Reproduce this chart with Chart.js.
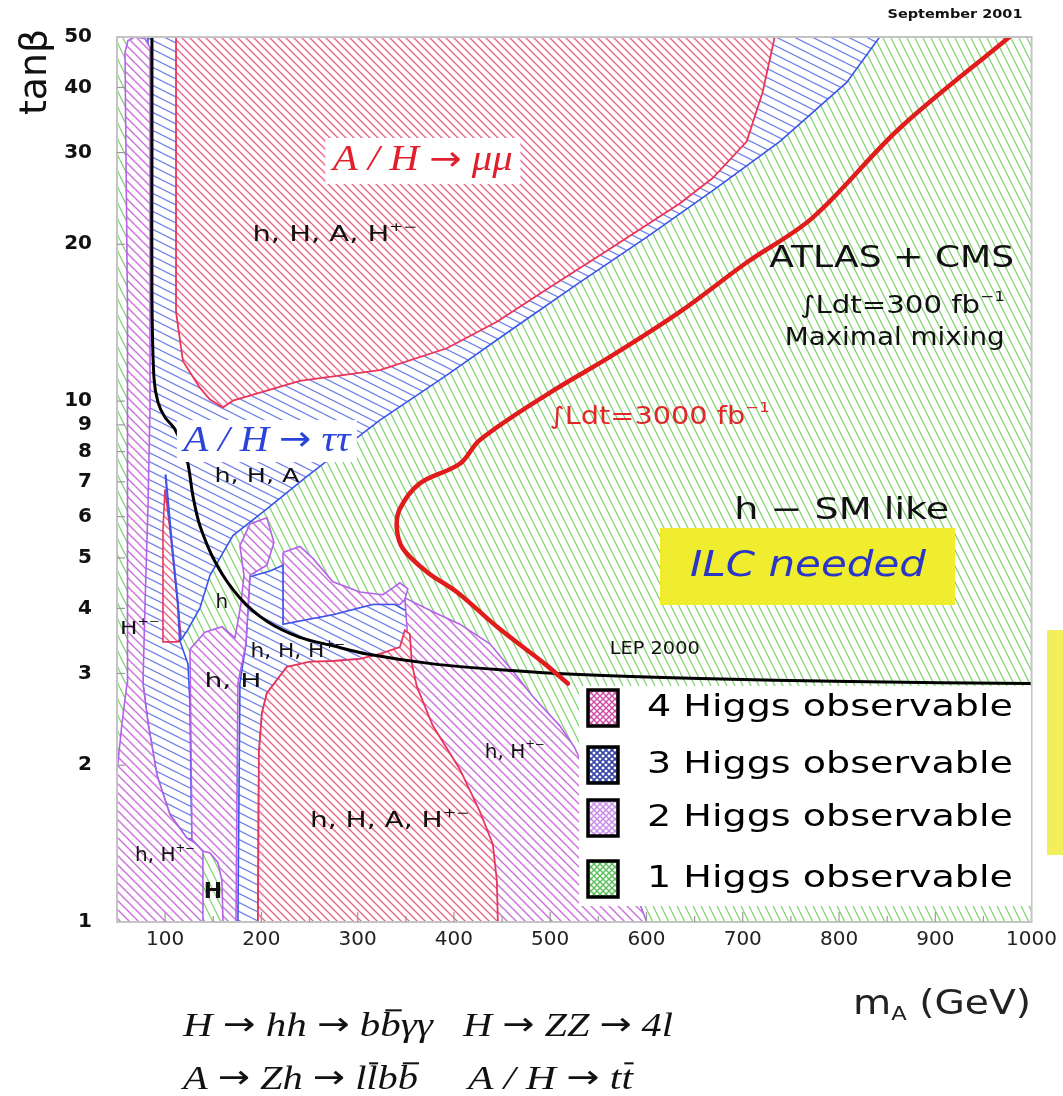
<!DOCTYPE html>
<html>
<head>
<meta charset="utf-8">
<script src="https://cdn.jsdelivr.net/npm/chart.js@4.4.1/dist/chart.umd.min.js"></script>
<style>
html,body{margin:0;padding:0;background:#ffffff;}
#c{display:block;}
</style>
</head>
<body>
<canvas id="c" width="1063" height="1096"></canvas>
<script>
// ---------------- data: [mA (GeV), tanβ] ----------------
const xTicks = [100,200,300,400,500,600,700,800,900,1000];
const yTicks = [1,2,3,4,5,6,7,8,9,10,20,30,40,50];
const legendLabels = ['4 Higgs observable','3 Higgs observable','2 Higgs observable','1 Higgs observable'];

const oneHiggsAll = [[50,1],[1000,1],[1000,50],[50,50]];
const threeHiggsUpper = [[82.2,50],[842.2,50],[808,40.9],[738.4,31.5],[668.8,25.35],[600.3,20.65],[530.7,16.9],[461.2,13.77],[392.6,11.22],[323.1,9.19],[247.3,7.17],[205.7,6.21],[170.4,5.52],[146.6,4.63],[136.2,4.01],[122.7,3.62],[115.4,3.46],[123.7,3.13],[125.8,2.63],[126.8,1.857],[127.9,1.442],[122.7,1.448],[105,1.608],[91.5,1.914],[82.2,2.41],[77,2.87],[77,4.07],[80.1,9.72]];
const fourHiggsMuMu = [[111.3,50],[733.2,50],[720.7,39.2],[704.1,31.5],[668.8,26.8],[634.6,23.96],[565,19.77],[496.5,16.4],[444.6,14.2],[392.6,12.63],[323.1,11.47],[240,10.93],[170.4,10.02],[160,9.72],[146.6,10.07],[136.2,10.6],[118.5,11.93],[111.3,14.83]];
const twoHiggsLeft = [[58.3,46.7],[61.4,49.2],[68.7,50],[79.1,49.6],[84.3,47.7],[84.3,9.72],[82.2,6.29],[79.1,4.07],[77,2.87],[82.2,2.41],[91.5,1.914],[105,1.608],[122.7,1.448],[133.1,1.411],[139.3,1.369],[139.3,1],[50,1],[50,1.94],[55.2,2.41],[60.4,2.87],[61.4,4.07],[60.4,15.03]];
const fourHiggsSliver = [[99.8,6.77],[107.1,5.28],[113.3,4.07],[116.5,3.52],[113.3,3.45],[97.8,3.45],[97.8,5.69]];
const tauTauEdge = [[100.5,7.2],[107.1,5.28],[113.3,4.07],[115.4,3.46]];
const twoHiggsMid = [[222.4,5.12],[240,5.26],[253.5,4.99],[274.3,4.50],[302.3,4.30],[326.2,4.25],[336.6,4.38],[343.8,4.48],[352.1,4.36],[349,4.16],[343.8,4.07],[315.8,4.07],[274.3,3.89],[222.4,3.73]];
const threeHiggsLower = [[175.6,1],[196.4,1],[197.4,2.115],[200.6,2.52],[205.7,2.75],[226.5,3.09],[274.3,3.17],[302.3,3.20],[351.1,3.09],[356.3,3.42],[352.1,3.94],[338.6,4.07],[315.8,4.07],[274.3,3.89],[222.4,3.73],[222.4,4.84],[208.9,4.72],[188.1,4.60],[183.9,3.42],[177.7,2.87]];
const twoHiggsColumn = [[125.8,3.34],[141.4,3.60],[159,3.69],[172.5,3.51],[178.7,4.07],[181.9,4.63],[177.7,5.28],[188.1,5.81],[205.7,5.97],[213,5.35],[205.7,4.84],[188.1,4.63],[183.9,3.42],[175.6,2.87],[173.6,1],[160.1,1],[159,1.20],[154.9,1.30],[146.6,1.357],[139.3,1.369],[127.9,1.442]];
const twoHiggsRight = [[349,4.19],[378.1,3.94],[406.1,3.73],[437.3,3.42],[463.2,3.0],[481.9,2.71],[510,2.38],[525.5,2.16],[541.1,1.857],[567.1,1.43],[587.8,1.15],[600.3,1],[400,1],[352,3.5]];
const fourHiggsLower = [[196.4,1],[197.4,2.115],[200.6,2.52],[205.7,2.75],[226.5,3.09],[250.4,3.16],[274.3,3.17],[302.3,3.20],[323.1,3.27],[343.8,3.37],[349,3.63],[354.2,3.57],[356.3,3.13],[361.5,2.83],[378.1,2.38],[406.1,1.965],[426.9,1.63],[440.4,1.411],[444.6,1.20],[445.6,1]];
const lepLimit = [[86.3,50],[86.3,28.9],[86.3,15.7],[88.4,11.08],[92.6,9.94],[99.8,9.31],[110.2,8.83],[122.7,7.72],[128.9,6.57],[136.2,5.76],[153.8,4.84],[177.7,4.19],[205.7,3.78],[240,3.52],[274.3,3.39],[309.6,3.27],[378.1,3.13],[447.7,3.05],[530.7,2.985],[655.3,2.934],[811.1,2.894],[1000,2.87]];
const ldt3000 = [[977,50],[863,33.4],[772.7,22.5],[704.1,18.45],[634.6,14.83],[565,12.25],[496.5,10.29],[426.9,8.42],[406.1,7.58],[364.6,6.95],[343.8,6.21],[340.7,5.69],[347,5.21],[371.9,4.70],[403,4.30],[447.7,3.65],[494.4,3.13],[518.3,2.87]];

// labels inside the plot, anchored at [mA, tanβ]
const plotLabels = [
 {runs:[{t:'h, H, A, H'},{t:'+−',sup:1}], x:276.4, y:20.8, size:22, width:165},
 {runs:[{t:'ATLAS + CMS'}], x:854.7, y:18.7, size:30, width:245},
 {runs:[{t:'∫Ldt=300 fb'},{t:'−1',sup:1}], x:866.1, y:15.2, size:24, width:205},
 {runs:[{t:'Maximal mixing'}], x:857.8, y:13.2, size:24, width:220},
 {runs:[{t:'∫Ldt=3000 fb'},{t:'−1',sup:1}], x:613.8, y:9.30, size:24, width:220, color:'#e0282a'},
 {runs:[{t:'h, H, A'}], x:195.4, y:7.17, size:20, width:85},
 {runs:[{t:'h − SM like'}], x:802.8, y:6.15, size:30, width:215},
 {runs:[{t:'LEP 2000'}], x:608.6, y:3.34, size:17, width:90},
 {runs:[{t:'H'},{t:'+−',sup:1}], x:73.9, y:3.65, size:18, width:40},
 {runs:[{t:'h'}], x:159, y:4.10, size:20},
 {runs:[{t:'h, H, H'},{t:'+−',sup:1}], x:237.9, y:3.30, size:20, width:95},
 {runs:[{t:'h, H'}], x:170.4, y:2.89, size:20, width:57},
 {runs:[{t:'h, H'},{t:'+−',sup:1}], x:463.2, y:2.115, size:20, width:60},
 {runs:[{t:'h, H, A, H'},{t:'+−',sup:1}], x:333.5, y:1.56, size:22, width:160},
 {runs:[{t:'h, H'},{t:'+−',sup:1}], x:99.8, y:1.34, size:20, width:60},
 {runs:[{t:'H'}], x:149.7, y:1.14, size:22, weight:'bold'}
];
const decayLabels = [
 {text:'A / H → μμ', x:367.7, y:28.9, color:'#e0202c', boxW:195, boxH:46, width:180},
 {text:'A / H → ττ', x:205.7, y:8.38, color:'#2a44d8', boxW:180, boxH:42, width:167}
];

// ---------------- drawing ----------------
const canvas = document.getElementById('c');
const ctx0 = canvas.getContext('2d');

function hatch(color, w, h, lw, dir){
  const c = document.createElement('canvas'); c.width = w; c.height = h;
  const g = c.getContext('2d');
  g.fillStyle = '#ffffff'; g.fillRect(0,0,w,h);
  g.strokeStyle = color; g.lineWidth = lw;
  for (const [dx,dy] of [[0,0],[-w,0],[w,0],[0,-h],[0,h]]){
    g.beginPath();
    if (dir > 0){ g.moveTo(dx,dy); g.lineTo(dx+w,dy+h); }
    else { g.moveTo(dx,dy+h); g.lineTo(dx+w,dy); }
    g.stroke();
  }
  return ctx0.createPattern(c,'repeat');
}
function cross(color, s, lw){
  const c = document.createElement('canvas'); c.width = s; c.height = s;
  const g = c.getContext('2d');
  g.fillStyle = '#ffffff'; g.fillRect(0,0,s,s);
  g.strokeStyle = color; g.lineWidth = lw;
  for (const [dx,dy] of [[0,0],[-s,0],[s,0],[0,-s],[0,s]]){
    g.beginPath(); g.moveTo(dx,dy); g.lineTo(dx+s,dy+s); g.stroke();
    g.beginPath(); g.moveTo(dx,dy+s); g.lineTo(dx+s,dy); g.stroke();
  }
  return ctx0.createPattern(c,'repeat');
}

const patGreen  = hatch('#86d676', 8, 16, 1.3, 1);
const patPink   = hatch('#ee6a8c', 8, 8, 1.5, 1);
const patBlue   = hatch('#7585ea', 18, 9, 1.3, 1);
const patPurple = hatch('#cb74da', 9, 9, 1.5, 1);
const legendPats = [cross('#d24aa8',6,1.4), cross('#3646a8',6,1.6), cross('#c98ae8',6,1.4), cross('#5cc05c',6,1.4)];

const RED='#e8365a', BLUE='#3a55e8', PURPLE='#b262e6';

const toXY = a => a.map(([x,y]) => ({x,y}));
const closed = a => a.concat([a[0]]);

function region(arr, pat, border, bw){
  return {data: toXY(closed(arr)), fill:'shape', backgroundColor: pat, borderColor: border,
          borderWidth: bw, pointRadius:0, pointHoverRadius:0, tension:0, clip:0};
}
function curve(arr, color, bw, tension){
  return {data: toXY(arr), fill:false, borderColor: color, borderWidth: bw,
          pointRadius:0, pointHoverRadius:0, tension: tension, clip:0, borderCapStyle:'round', borderJoinStyle:'round'};
}

// bottom -> top
const layers = [
  region(oneHiggsAll, patGreen, 'rgba(0,0,0,0)', 0),
  region(threeHiggsUpper, patBlue, BLUE, 1.6),
  region(fourHiggsMuMu, patPink, RED, 1.8),
  region(twoHiggsLeft, patPurple, PURPLE, 1.6),
  region(fourHiggsSliver, patPink, RED, 1.6),
  curve(tauTauEdge, BLUE, 2.2, 0),
  region(twoHiggsMid, patPurple, PURPLE, 1.6),
  region(threeHiggsLower, patBlue, BLUE, 1.6),
  region(twoHiggsColumn, patPurple, PURPLE, 1.6),
  region(twoHiggsRight, patPurple, PURPLE, 1.6),
  region(fourHiggsLower, patPink, RED, 1.8),
  curve(lepLimit, '#000000', 3, 0.3),
  curve(ldt3000, '#e01c1c', 4.5, 0.35)
];
layers.forEach((d,i) => { d.order = layers.length - i; });

// split '→' into separate runs drawn with a sans font so the arrows keep full size
function withArrows(runs){
  const out = [];
  for (const r of runs){
    const parts = r.t.split('→');
    parts.forEach((p,i) => {
      if (i > 0) out.push({t:'→', arrow:1});
      if (p) out.push(Object.assign({}, r, {t:p}));
    });
  }
  return out;
}

function rich(ctx, runs, x, y, o){
  const fnt = (s, r) => r && r.arrow ? `normal normal ${s*0.95}px "DejaVu Sans"`
                                     : `${o.style||'normal'} ${o.weight||'normal'} ${s}px ${o.family||'"DejaVu Sans"'}`;
  const sizeOf = r => (r.sup||r.sub) ? o.size*0.58 : o.size;
  if (o.arrows) runs = withArrows(runs);
  let total = 0; const ws = [];
  for (const r of runs){ ctx.font = fnt(sizeOf(r), r); const w = ctx.measureText(r.t).width; ws.push(w); total += w; }
  const sx = o.width ? o.width/total : 1;
  ctx.save();
  ctx.translate(x, y);
  if (o.rotate) ctx.rotate(o.rotate);
  ctx.scale(sx, 1);
  let cx = o.align === 'left' ? 0 : -total/2;
  ctx.fillStyle = o.color || '#111';
  ctx.textBaseline = 'middle'; ctx.textAlign = 'left';
  runs.forEach((r,i) => {
    ctx.font = fnt(sizeOf(r), r);
    const dy = r.sup ? -o.size*0.36 : (r.sub ? o.size*0.28 : 0);
    ctx.fillText(r.t, cx, dy);
    if (r.over) ctx.fillRect(cx + ws[i]*0.25, -o.size*0.52, ws[i]*0.8, Math.max(1.6, o.size*0.06));
    cx += ws[i];
  });
  ctx.restore();
}

const decor = {
  id: 'decor',
  afterDatasetsDraw(chart){
    const {ctx, chartArea:a, scales:{x, y}} = chart;
    ctx.save();
    ctx.strokeStyle = '#c4c4c4'; ctx.lineWidth = 2;
    ctx.strokeRect(a.left, a.top, a.right-a.left, a.bottom-a.top);
    ctx.strokeStyle = '#999999'; ctx.lineWidth = 1.2;
    for (let v = 100; v < 1000; v += 50){
      const px = x.getPixelForValue(v), L = v % 100 === 0 ? 10 : 6;
      ctx.beginPath(); ctx.moveTo(px, a.bottom); ctx.lineTo(px, a.bottom - L); ctx.stroke();
    }
    for (const v of yTicks){
      if (v === 1 || v === 50) continue;
      const py = y.getPixelForValue(v);
      ctx.beginPath(); ctx.moveTo(a.left, py); ctx.lineTo(a.left + 8, py); ctx.stroke();
    }
    ctx.restore();
  },
  afterDraw(chart){
    const {ctx, scales:{x, y}} = chart;
    ctx.save();
    // decay-channel labels on white boxes
    for (const d of decayLabels){
      const px = x.getPixelForValue(d.x), py = y.getPixelForValue(d.y);
      ctx.fillStyle = '#ffffff';
      ctx.fillRect(px - d.boxW/2, py - d.boxH/2, d.boxW, d.boxH);
      rich(ctx, [{t:d.text}], px, py, {size:36, family:'"Liberation Serif"', style:'italic', color:d.color, width:d.width, arrows:1});
    }
    // region labels
    for (const l of plotLabels){
      rich(ctx, l.runs, x.getPixelForValue(l.x), y.getPixelForValue(l.y),
           {size:l.size, width:l.width, color:l.color||'#111111', weight:l.weight||'normal'});
    }
    // ILC box
    ctx.fillStyle = '#f0ec2e';
    ctx.fillRect(660, 528, 295, 77);
    rich(ctx, [{t:'ILC needed'}], 808, 567, {size:36, style:'italic', color:'#2a36c8', width:236});
    ctx.fillStyle = '#f3ef5c';
    ctx.fillRect(1047, 630, 16, 225);
    // legend
    ctx.fillStyle = '#ffffff';
    ctx.fillRect(579, 686, 452, 220);
    const rowsY = [708, 765, 818, 879];
    legendLabels.forEach((t,i) => {
      const top = rowsY[i] - 18;
      ctx.fillStyle = legendPats[i];
      ctx.fillRect(588, top, 30, 36);
      ctx.strokeStyle = '#000000'; ctx.lineWidth = 3.5;
      ctx.strokeRect(588, top, 30, 36);
      rich(ctx, [{t:t}], 647, rowsY[i], {size:30, align:'left', width:366, color:'#000000'});
    });
    // axis titles
    rich(ctx, [{t:'tanβ'}], 36, 72, {size:38, rotate:-Math.PI/2, width:86, color:'#111111'});
    rich(ctx, [{t:'m'},{t:'A',sub:1},{t:' (GeV)'}], 853, 1005, {size:34, align:'left', width:178, color:'#222222'});
    rich(ctx, [{t:'September 2001'}], 955, 15, {size:13, weight:'bold', width:135, color:'#111111'});
    // production / decay formulas
    const f = {size:34, family:'"Liberation Serif"', style:'italic', align:'left', color:'#111111', arrows:1};
    rich(ctx, [{t:'H → hh → b'},{t:'b',over:1},{t:'γγ'}], 183, 1027, Object.assign({width:250}, f));
    rich(ctx, [{t:'H → ZZ → 4l'}], 463, 1027, Object.assign({width:210}, f));
    rich(ctx, [{t:'A → Zh → l'},{t:'l',over:1},{t:'b'},{t:'b',over:1}], 183, 1080, Object.assign({width:235}, f));
    rich(ctx, [{t:'A / H → t'},{t:'t',over:1}], 468, 1080, Object.assign({width:165}, f));
    ctx.restore();
  }
};

new Chart(ctx0, {
  type: 'line',
  data: { datasets: layers },
  plugins: [decor],
  options: {
    responsive: false,
    animation: false,
    devicePixelRatio: 1,
    events: [],
    layout: { padding: { top: 24, right: 31, left: 0, bottom: 0 } },
    plugins: { legend: { display: false }, tooltip: { enabled: false } },
    scales: {
      x: {
        type: 'linear', min: 50, max: 1000,
        afterFit: s => { s.height = 174; },
        afterBuildTicks: s => { s.ticks = xTicks.map(v => ({value: v})); },
        ticks: { callback: v => String(v), autoSkip: false, maxRotation: 0, padding: 6,
                 color: '#222222', font: { family: '"DejaVu Sans"', size: 20 } },
        grid: { display: false, drawTicks: false },
        border: { display: false }
      },
      y: {
        type: 'logarithmic', min: 1, max: 50,
        afterFit: s => { s.width = 117; },
        afterBuildTicks: s => { s.ticks = yTicks.map(v => ({value: v})); },
        ticks: { callback: v => String(v), autoSkip: false, padding: 25,
                 color: '#111111', font: { family: '"DejaVu Sans"', size: 20, weight: 'bold' } },
        grid: { display: false, drawTicks: false },
        border: { display: false }
      }
    }
  }
});
</script>
</body>
</html>
